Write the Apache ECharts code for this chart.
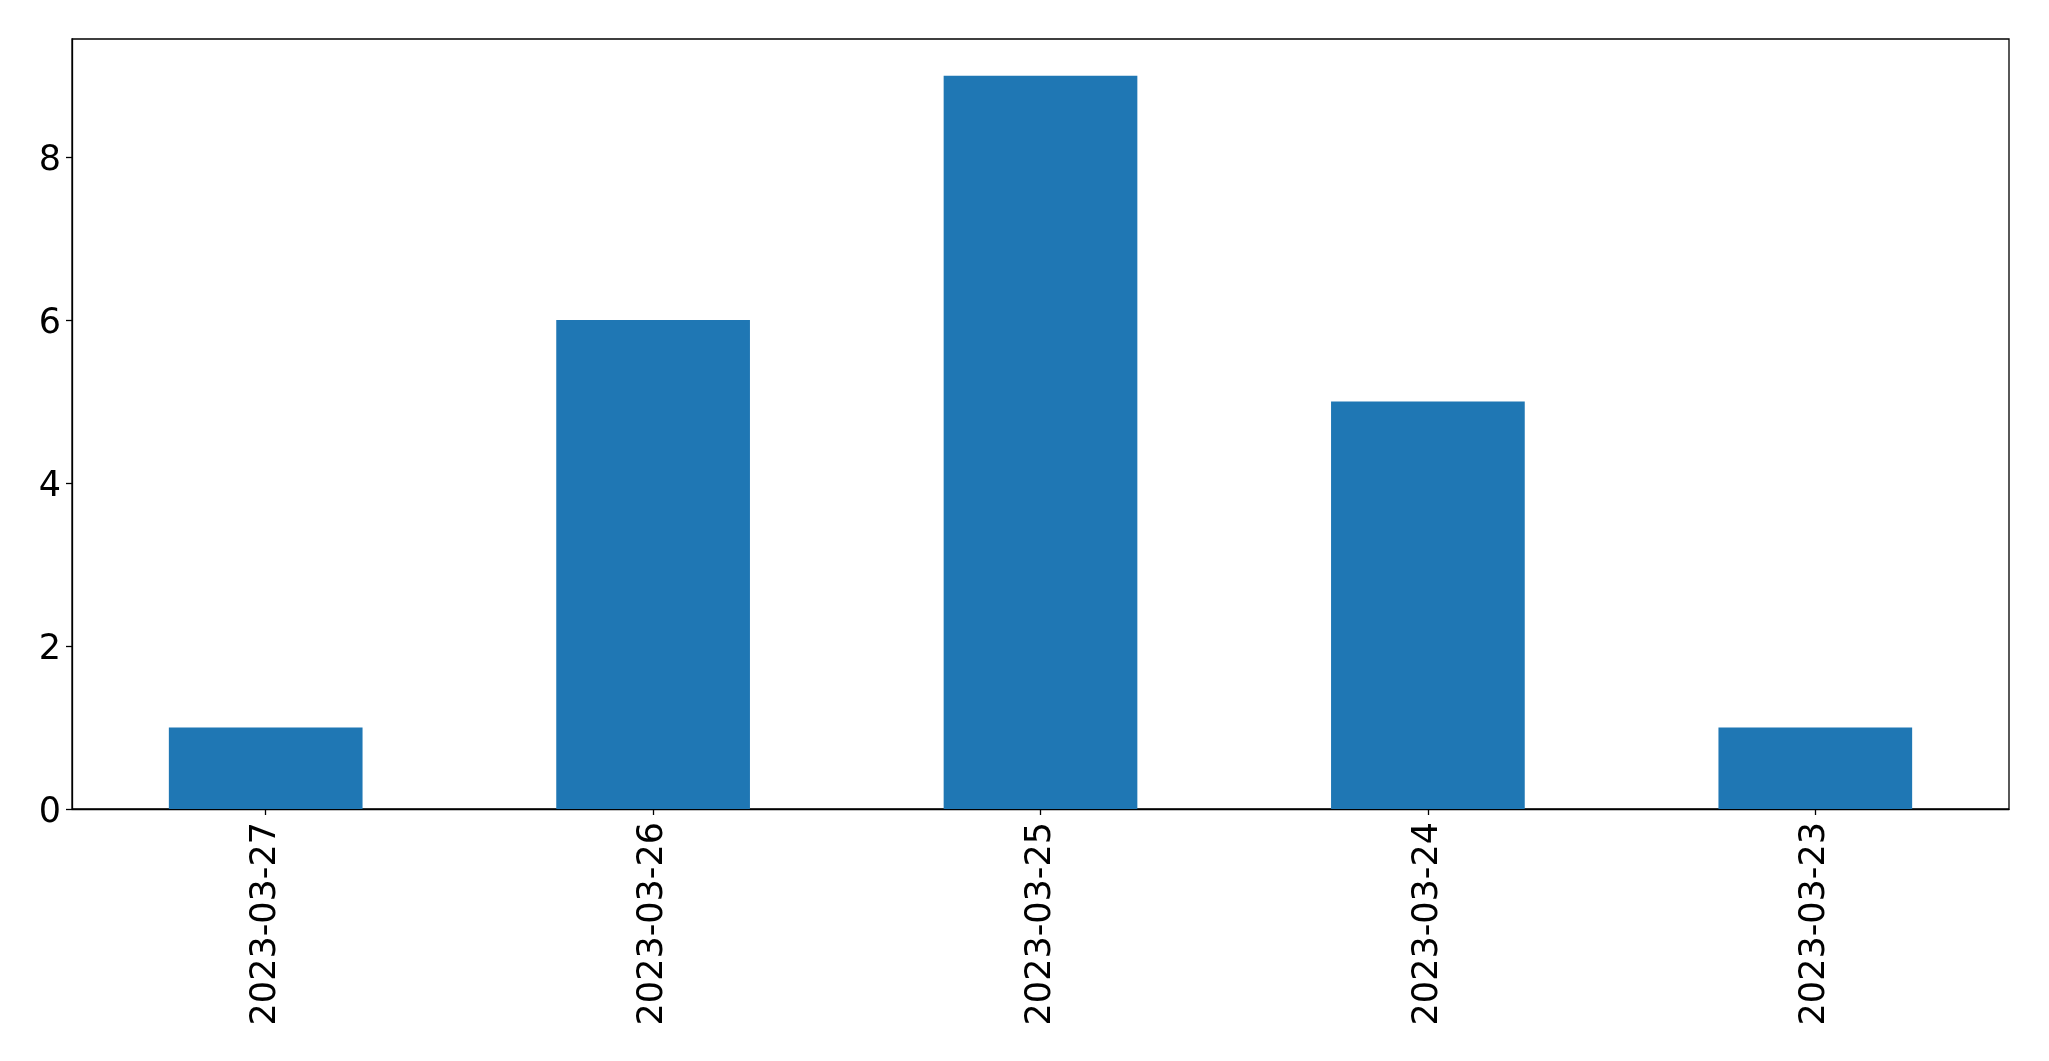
<!DOCTYPE html>
<html>
<head>
<meta charset="utf-8">
<script src="https://cdn.jsdelivr.net/npm/echarts@6/dist/echarts.min.js"></script>
<style>html,body{margin:0;padding:0;background:#fff;}#c{width:2049px;height:1061px;}</style>
</head>
<body>
<div id="c"></div>
<script>
const categories = ['2023-03-27', '2023-03-26', '2023-03-25', '2023-03-24', '2023-03-23'];
const counts = [1, 6, 9, 5, 1];
const yTicks = [0, 2, 4, 6, 8];

const chart = echarts.init(document.getElementById('c'), null, {renderer: 'canvas'});
chart.setOption({
  animation: false,
  backgroundColor: '#ffffff',
  grid: {left: 72, right: 40, top: 39, bottom: 252, show: true, borderColor: '#000', borderWidth: 1.3, backgroundColor: 'transparent'},
  xAxis: {
    type: 'category',
    data: categories,
    boundaryGap: true,
    axisLine: {show: true, lineStyle: {color: '#000', width: 1.3}},
    axisTick: {show: true, alignWithLabel: true, length: 6, lineStyle: {color: '#000', width: 1.3}},
    axisLabel: {rotate: 90, margin: 13, color: '#000', fontSize: 35, fontFamily: 'DejaVu Sans'},
    splitLine: {show: false}
  },
  yAxis: {
    type: 'value',
    min: 0,
    max: 9.45,
    axisLine: {show: true, lineStyle: {color: '#000', width: 1.3}},
    axisTick: {show: true, length: 6, customValues: yTicks, lineStyle: {color: '#000', width: 1.3}},
    axisLabel: {
      customValues: yTicks, margin: 11, color: '#000', fontSize: 35, fontFamily: 'DejaVu Sans',
      formatter: function (v) { return '{t|' + v + '}'; },
      rich: {t: {fontSize: 35, fontFamily: 'DejaVu Sans', color: '#000', padding: [8, 0, 0, 0]}}
    },
    splitLine: {show: false}
  },
  series: [{
    type: 'bar',
    data: counts,
    barWidth: '50%',
    itemStyle: {color: '#1f77b4'}
  }]
});
</script>
</body>
</html>
